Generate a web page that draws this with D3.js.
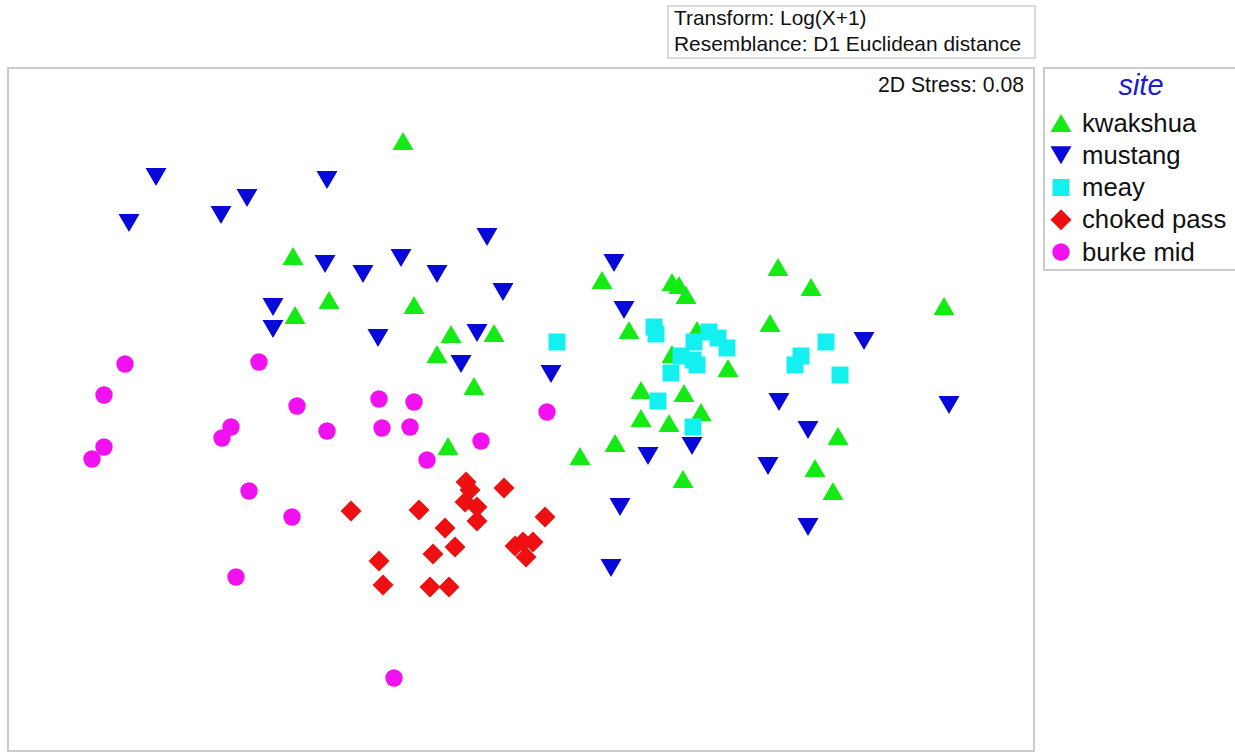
<!DOCTYPE html>
<html>
<head>
<meta charset="utf-8">
<script src="https://cdn.jsdelivr.net/npm/d3@7"></script>
<style>
  html, body { margin: 0; padding: 0; background: #ffffff; }
  svg { display: block; font-family: "Liberation Sans", Arial, sans-serif; }
</style>
</head>
<body>
<svg id="chart" width="1235" height="753"></svg>
<script>
// nMDS ordination coordinates (MDS1, MDS2) per site
const sites = ["kwakshua", "mustang", "meay", "choked pass", "burke mid"];

const kwakshua = [
  [-1.17, 2.69], [-2.27, 1.54], [-1.91, 1.10], [-1.06, 1.05], [-2.25, 0.95],
  [-0.69, 0.76], [-0.26, 0.77], [-0.83, 0.56], [-0.46, 0.24], [-0.72, -0.36],
  [0.82, 1.30], [1.52, 1.28], [1.59, 1.25], [1.66, 1.15], [2.58, 1.43],
  [2.91, 1.23], [4.24, 1.04], [1.09, 0.80], [2.50, 0.87], [1.77, 0.80],
  [1.52, 0.56], [2.08, 0.42], [1.21, 0.20], [1.64, 0.17], [1.81, -0.02],
  [1.21, -0.08], [1.49, -0.13], [0.95, -0.33], [0.60, -0.46], [1.63, -0.69],
  [3.18, -0.26], [2.95, -0.58], [3.13, -0.81]
];

const mustang = [
  [-3.64, 2.33], [-1.93, 2.30], [-2.73, 2.12], [-2.99, 1.95], [-3.91, 1.87],
  [-0.33, 1.73], [-1.95, 1.46], [-1.57, 1.36], [-1.19, 1.52], [-0.83, 1.36],
  [-0.17, 1.18], [-2.47, 1.03], [-2.47, 0.81], [-1.42, 0.72], [-0.43, 0.77],
  [-0.59, 0.46], [0.31, 0.36], [0.94, 1.47], [1.04, 1.00], [3.44, 0.69],
  [2.59, 0.08], [4.29, 0.05], [2.88, -0.20], [1.72, -0.36], [1.28, -0.46],
  [2.48, -0.56], [1.00, -0.97], [2.88, -1.17], [0.91, -1.58]
];

const meay = [
  [0.37, 0.68], [1.34, 0.83], [1.36, 0.76], [1.89, 0.78], [1.98, 0.72],
  [2.07, 0.62], [1.74, 0.68], [1.61, 0.54], [1.73, 0.50], [1.77, 0.45],
  [1.51, 0.37], [1.38, 0.09], [1.73, -0.17], [3.06, 0.68], [2.81, 0.54],
  [2.75, 0.45], [3.20, 0.35]
];

const chokedPass = [
  [-0.54, -0.72], [-0.50, -0.80], [-0.16, -0.78], [-1.01, -1.00], [-0.55, -0.92],
  [-0.43, -0.97], [-0.43, -1.11], [0.25, -1.07], [-0.75, -1.18], [-0.65, -1.37],
  [-0.87, -1.44], [-0.05, -1.36], [0.03, -1.32], [0.13, -1.32], [0.06, -1.47],
  [-0.90, -1.77], [-0.71, -1.77], [-1.69, -1.01], [-1.41, -1.51], [-1.37, -1.75]
];

const burkeMid = [
  [-3.95, 0.46], [-2.61, 0.48], [-4.16, 0.15], [-2.23, 0.04], [-1.41, 0.11],
  [-1.06, 0.08], [-2.89, -0.17], [-2.98, -0.28], [-1.93, -0.21], [-1.38, -0.18],
  [-1.10, -0.17], [0.27, -0.02], [-4.16, -0.37], [-4.28, -0.49], [-0.39, -0.31],
  [-0.93, -0.50], [-2.71, -0.81], [-2.28, -1.07], [-2.84, -1.67], [-1.26, -2.68]
];

const stressLabel = "2D Stress: 0.08";
const infoLines = ["Transform: Log(X+1)", "Resemblance: D1 Euclidean distance"];
const legendTitle = "site";

// ---- styling ----
const colors = {
  "kwakshua": "#14ea14",
  "mustang": "#0808d8",
  "meay": "#14f0f0",
  "choked pass": "#ee1010",
  "burke mid": "#f010f0"
};
const shapes = {
  "kwakshua": "up",
  "mustang": "down",
  "meay": "square",
  "choked pass": "diamond",
  "burke mid": "circle"
};

function shapePath(kind) {
  const p = d3.path();
  if (kind === "up") {
    const w = 10.5, h = 9;
    p.moveTo(0, -h); p.lineTo(w, h); p.lineTo(-w, h); p.closePath();
  } else if (kind === "down") {
    const w = 10.5, h = 9;
    p.moveTo(-w, -h); p.lineTo(w, -h); p.lineTo(0, h); p.closePath();
  } else if (kind === "square") {
    const s = 8.5;
    p.rect(-s, -s, 2 * s, 2 * s);
  } else if (kind === "diamond") {
    const s = 10.5;
    p.moveTo(0, -s); p.lineTo(s, 0); p.lineTo(0, s); p.lineTo(-s, 0); p.closePath();
  } else {
    p.arc(0, 0, 8.7, 0, 2 * Math.PI);
  }
  return p.toString();
}

const svg = d3.select("#chart");

// plot frame
const frame = { left: 8, top: 68, right: 1034, bottom: 751 };
const x = d3.scaleLinear().domain([-5.12, 5.14]).range([frame.left, frame.right]);
const y = d3.scaleLinear().domain([-3.41, 3.42]).range([frame.bottom, frame.top]);

svg.append("rect")
  .attr("x", frame.left).attr("y", frame.top)
  .attr("width", frame.right - frame.left).attr("height", frame.bottom - frame.top)
  .attr("fill", "#ffffff").attr("stroke", "#cccccc").attr("stroke-width", 2);

// info box above the plot
const info = svg.append("g");
info.append("rect")
  .attr("x", 668).attr("y", 6).attr("width", 367).attr("height", 52)
  .attr("fill", "#ffffff").attr("stroke", "#b8b8b8").attr("stroke-width", 1);
info.selectAll("text").data(infoLines).join("text")
  .attr("x", 674).attr("y", (d, i) => 25 + i * 26)
  .attr("font-size", 20.9).attr("fill", "#111")
  .text(d => d);

// stress label
svg.append("text")
  .attr("x", 1024).attr("y", 92)
  .attr("text-anchor", "end")
  .attr("font-size", 21.2).attr("fill", "#111")
  .text(stressLabel);

// points
const groups = [
  { site: "kwakshua", pts: kwakshua },
  { site: "mustang", pts: mustang },
  { site: "meay", pts: meay },
  { site: "choked pass", pts: chokedPass },
  { site: "burke mid", pts: burkeMid }
];

const plot = svg.append("g");
groups.forEach(g => {
  plot.append("g").selectAll("path").data(g.pts).join("path")
    .attr("d", shapePath(shapes[g.site]))
    .attr("transform", d => `translate(${x(d[0])},${y(d[1])})`)
    .attr("fill", colors[g.site]);
});

// legend
const legend = svg.append("g");
legend.append("rect")
  .attr("x", 1044).attr("y", 68).attr("width", 210).attr("height", 202)
  .attr("fill", "#ffffff").attr("stroke", "#cccccc").attr("stroke-width", 2);
legend.append("text")
  .attr("x", 1141).attr("y", 95)
  .attr("text-anchor", "middle")
  .attr("font-size", 29).attr("font-style", "italic")
  .attr("fill", "#1c1cd0")
  .text(legendTitle);

const rowY = d3.scalePoint().domain(sites).range([123, 252]);
const rows = legend.selectAll("g.row").data(sites).join("g")
  .attr("class", "row")
  .attr("transform", d => `translate(0,${rowY(d)})`);
rows.append("path")
  .attr("d", d => shapePath(shapes[d]))
  .attr("transform", "translate(1061,0)")
  .attr("fill", d => colors[d]);
rows.append("text")
  .attr("x", 1082).attr("y", 8.5)
  .attr("font-size", 25.7).attr("fill", "#111")
  .text(d => d);
</script>
</body>
</html>
